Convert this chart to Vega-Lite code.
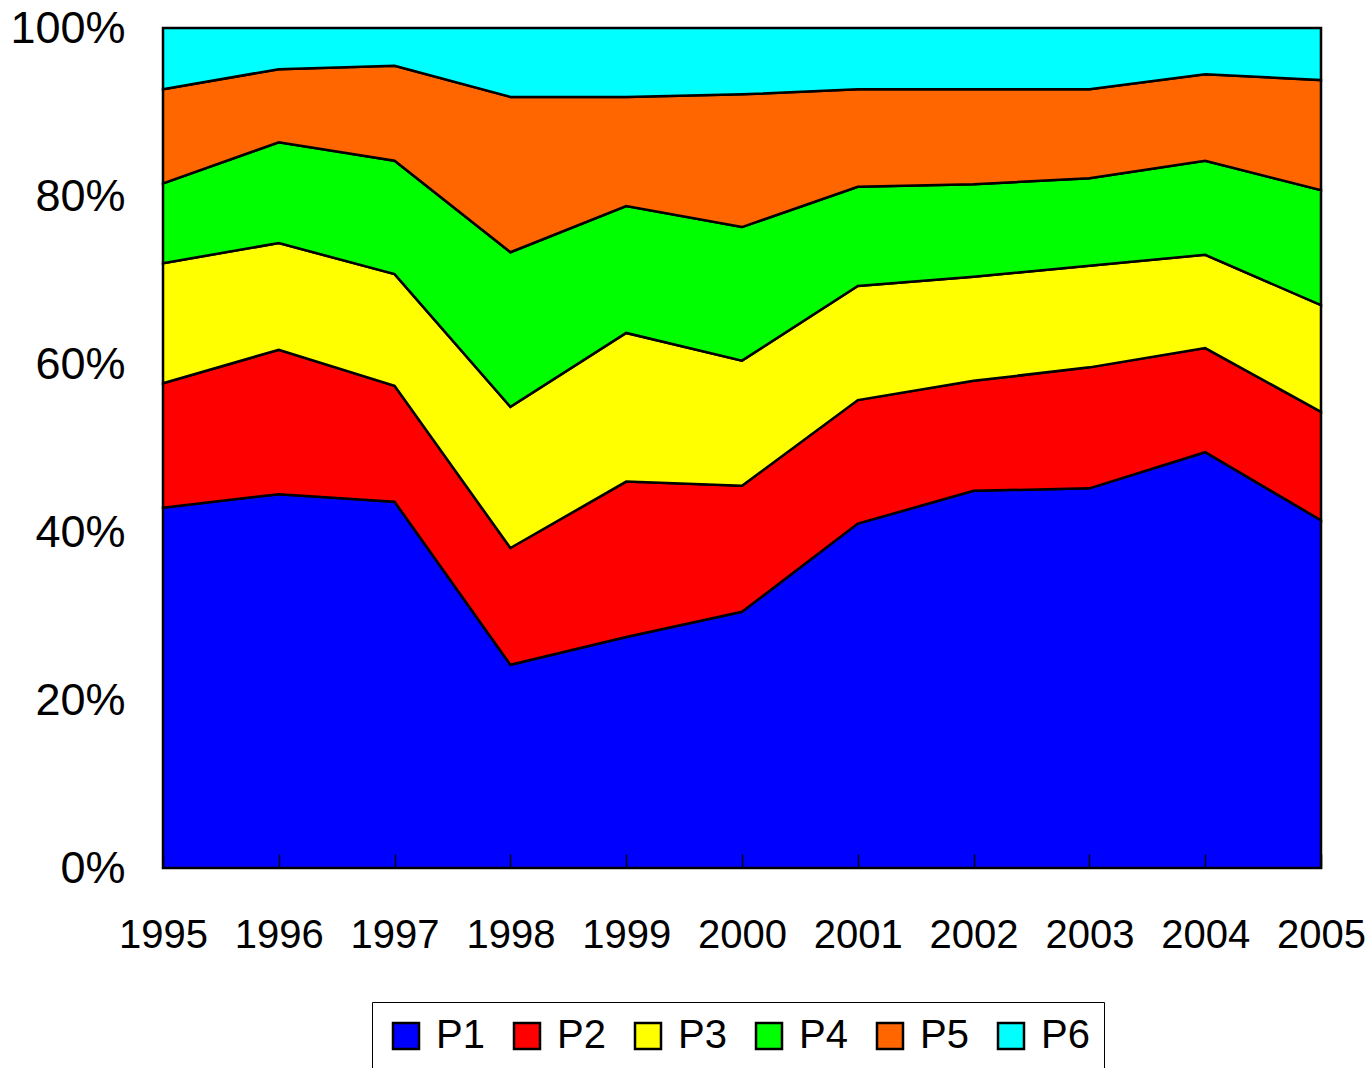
{
  "$schema": "https://vega.github.io/schema/vega-lite/v6.json",
  "width": 1158,
  "height": 840,
  "autosize": {"type": "none"},
  "padding": {"left": 163, "top": 28, "right": 49, "bottom": 200},
  "background": "white",
  "config": {
    "view": {"stroke": "black", "strokeWidth": 2},
    "font": "Liberation Sans"
  },
  "data": {
    "values": [
      {"year": 1995, "series": "P1", "share": 42.9},
      {"year": 1995, "series": "P2", "share": 14.8},
      {"year": 1995, "series": "P3", "share": 14.3},
      {"year": 1995, "series": "P4", "share": 9.5},
      {"year": 1995, "series": "P5", "share": 11.2},
      {"year": 1995, "series": "P6", "share": 7.3},
      {"year": 1996, "series": "P1", "share": 44.5},
      {"year": 1996, "series": "P2", "share": 17.2},
      {"year": 1996, "series": "P3", "share": 12.7},
      {"year": 1996, "series": "P4", "share": 12.0},
      {"year": 1996, "series": "P5", "share": 8.7},
      {"year": 1996, "series": "P6", "share": 4.9},
      {"year": 1997, "series": "P1", "share": 43.6},
      {"year": 1997, "series": "P2", "share": 13.8},
      {"year": 1997, "series": "P3", "share": 13.3},
      {"year": 1997, "series": "P4", "share": 13.5},
      {"year": 1997, "series": "P5", "share": 11.3},
      {"year": 1997, "series": "P6", "share": 4.5},
      {"year": 1998, "series": "P1", "share": 24.2},
      {"year": 1998, "series": "P2", "share": 13.9},
      {"year": 1998, "series": "P3", "share": 16.8},
      {"year": 1998, "series": "P4", "share": 18.4},
      {"year": 1998, "series": "P5", "share": 18.5},
      {"year": 1998, "series": "P6", "share": 8.2},
      {"year": 1999, "series": "P1", "share": 27.5},
      {"year": 1999, "series": "P2", "share": 18.5},
      {"year": 1999, "series": "P3", "share": 17.7},
      {"year": 1999, "series": "P4", "share": 15.1},
      {"year": 1999, "series": "P5", "share": 13.0},
      {"year": 1999, "series": "P6", "share": 8.2},
      {"year": 2000, "series": "P1", "share": 30.5},
      {"year": 2000, "series": "P2", "share": 15.0},
      {"year": 2000, "series": "P3", "share": 14.9},
      {"year": 2000, "series": "P4", "share": 15.9},
      {"year": 2000, "series": "P5", "share": 15.8},
      {"year": 2000, "series": "P6", "share": 7.9},
      {"year": 2001, "series": "P1", "share": 41.0},
      {"year": 2001, "series": "P2", "share": 14.7},
      {"year": 2001, "series": "P3", "share": 13.6},
      {"year": 2001, "series": "P4", "share": 11.8},
      {"year": 2001, "series": "P5", "share": 11.6},
      {"year": 2001, "series": "P6", "share": 7.3},
      {"year": 2002, "series": "P1", "share": 44.9},
      {"year": 2002, "series": "P2", "share": 13.1},
      {"year": 2002, "series": "P3", "share": 12.4},
      {"year": 2002, "series": "P4", "share": 11.0},
      {"year": 2002, "series": "P5", "share": 11.3},
      {"year": 2002, "series": "P6", "share": 7.3},
      {"year": 2003, "series": "P1", "share": 45.2},
      {"year": 2003, "series": "P2", "share": 14.4},
      {"year": 2003, "series": "P3", "share": 12.1},
      {"year": 2003, "series": "P4", "share": 10.4},
      {"year": 2003, "series": "P5", "share": 10.6},
      {"year": 2003, "series": "P6", "share": 7.3},
      {"year": 2004, "series": "P1", "share": 49.5},
      {"year": 2004, "series": "P2", "share": 12.4},
      {"year": 2004, "series": "P3", "share": 11.1},
      {"year": 2004, "series": "P4", "share": 11.2},
      {"year": 2004, "series": "P5", "share": 10.3},
      {"year": 2004, "series": "P6", "share": 5.5},
      {"year": 2005, "series": "P1", "share": 41.4},
      {"year": 2005, "series": "P2", "share": 12.9},
      {"year": 2005, "series": "P3", "share": 12.7},
      {"year": 2005, "series": "P4", "share": 13.7},
      {"year": 2005, "series": "P5", "share": 13.1},
      {"year": 2005, "series": "P6", "share": 6.2}
    ]
  },
  "mark": {"type": "area", "stroke": "black", "strokeWidth": 2.5, "strokeJoin": "miter", "opacity": 1},
  "encoding": {
    "x": {
      "field": "year",
      "type": "quantitative",
      "scale": {"domain": [1995, 2005], "nice": false, "zero": false},
      "axis": {
        "values": [1995, 1996, 1997, 1998, 1999, 2000, 2001, 2002, 2003, 2004, 2005],
        "format": "d",
        "title": null,
        "grid": false,
        "domain": false,
        "tickSize": -14,
        "tickColor": "black",
        "tickWidth": 1.5,
        "zindex": 1,
        "labelFontSize": 40,
        "labelColor": "black",
        "labelPadding": 61,
        "labelFlush": false,
        "labelOverlap": false
      }
    },
    "y": {
      "field": "share",
      "type": "quantitative",
      "stack": "normalize",
      "scale": {"domain": [0, 1], "nice": false},
      "axis": {
        "values": [0, 0.2, 0.4, 0.6, 0.8, 1],
        "format": ".0%",
        "title": null,
        "grid": false,
        "domain": false,
        "ticks": false,
        "labelFontSize": 45,
        "labelColor": "black",
        "labelPadding": 38,
        "labelFlush": false,
        "labelOverlap": false
      }
    },
    "color": {
      "field": "series",
      "type": "nominal",
      "scale": {
        "domain": ["P1", "P2", "P3", "P4", "P5", "P6"],
        "range": ["#0000ff", "#ff0000", "#ffff00", "#00ff00", "#ff6600", "#00ffff"]
      },
      "legend": {
        "orient": "none",
        "legendX": 209,
        "legendY": 974,
        "direction": "horizontal",
        "columns": 6,
        "title": null,
        "strokeColor": "black",
        "fillColor": "white",
        "padding": 14,
        "symbolType": "square",
        "symbolSize": 676,
        "symbolStrokeColor": "black",
        "symbolStrokeWidth": 2.5,
        "symbolOpacity": 1,
        "labelFontSize": 40,
        "labelColor": "black",
        "labelOffset": 10,
        "columnPadding": 22
      }
    },
    "order": {"field": "series", "sort": "ascending"}
  }
}
